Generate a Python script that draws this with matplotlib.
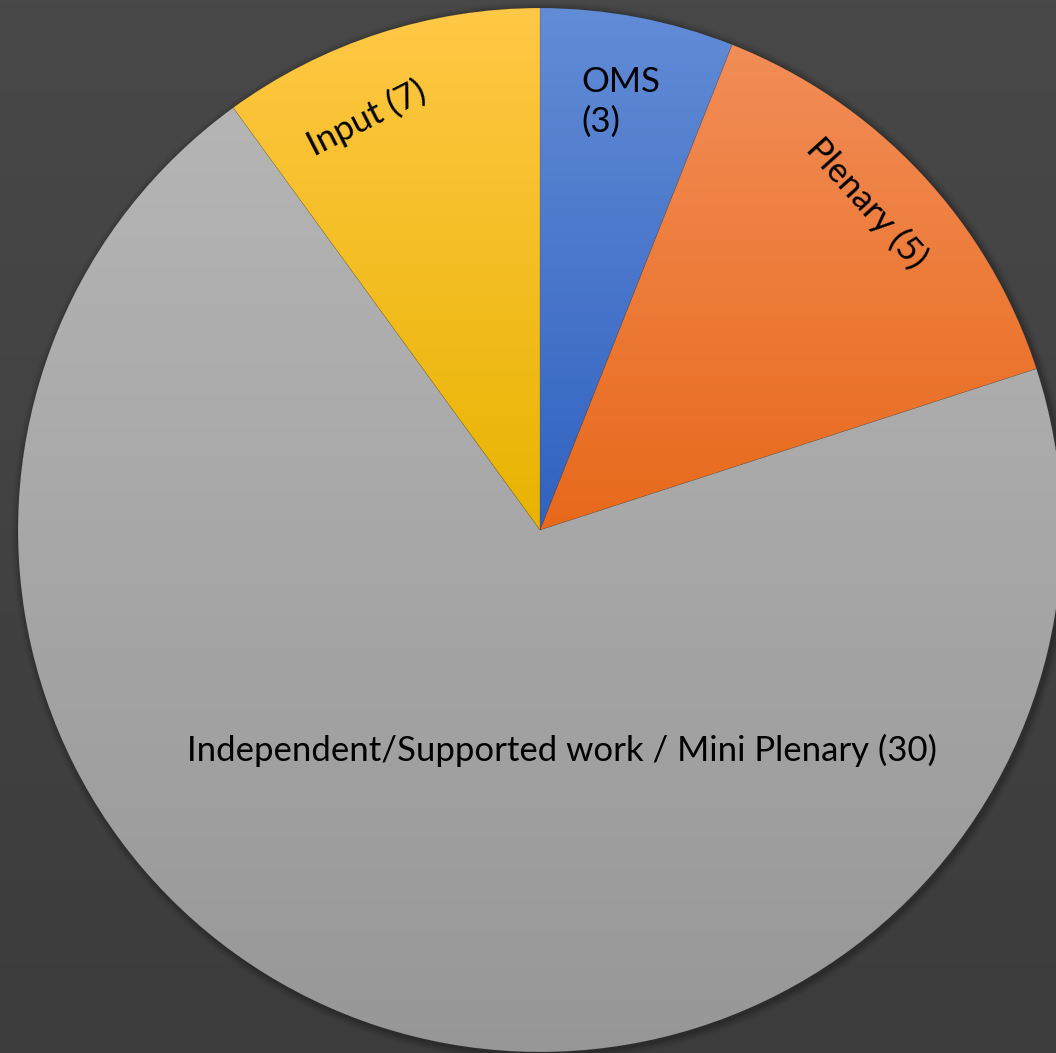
import numpy as np
import matplotlib
matplotlib.use("Agg")
import matplotlib.pyplot as plt
from matplotlib.colors import LinearSegmentedColormap

plt.rcParams['font.family'] = ['Lato', 'DejaVu Sans']

categories = ["OMS", "Plenary", "Independent/Supported work / Mini Plenary", "Input"]
label_counts = ["3", "5", "30", "7"]
values = [3, 7, 35, 5]
top_colors = ["#628cd6", "#f28d57", "#b5b5b5", "#ffc846"]
bottom_colors = ["#3262c0", "#e8691b", "#979797", "#e8b400"]

W, H = 1056, 1053
fig = plt.figure(figsize=(W / 100, H / 100), dpi=100)
ax = fig.add_axes([0, 0, 1, 1])
ax.set_axis_off()

# background gradient
bg = np.linspace(0, 1, 256).reshape(-1, 1)
bg_cmap = LinearSegmentedColormap.from_list("bg", ["#3c3c3c", "#484848"])
ax.imshow(bg, cmap=bg_cmap, extent=[0, W, 0, H], origin="lower", aspect="auto", zorder=0)

cx, cy, r = 540, H - 530, 522

# soft shadow
for i, a in enumerate([0.10, 0.08, 0.06, 0.04]):
    sh = plt.Circle((cx + 2, cy - 2), r + 2 + i * 2, color="black", alpha=a, zorder=1, lw=0)
    ax.add_patch(sh)

wedges, _ = ax.pie(values, startangle=90, counterclock=False, center=(cx, cy), radius=r,
                   wedgeprops=dict(linewidth=0.5, edgecolor="#00000018"), frame=True)

for w, tc, bc in zip(wedges, top_colors, bottom_colors):
    w.set_facecolor("none")
    w.set_zorder(3)
    path = w.get_path()
    verts = w.get_transform().transform(path.vertices)
    dverts = ax.transData.inverted().transform(verts)
    x0, x1 = dverts[:, 0].min(), dverts[:, 0].max()
    y0, y1 = dverts[:, 1].min(), dverts[:, 1].max()
    cm = LinearSegmentedColormap.from_list("g", [bc, tc])
    im = ax.imshow(np.linspace(0, 1, 256).reshape(-1, 1), cmap=cm, extent=[x0, x1, y0, y1],
                   origin="lower", aspect="auto", zorder=2)
    im.set_clip_path(w)

ax.set_xlim(0, W)
ax.set_ylim(0, H)
ax.set_aspect("auto")

fs = 25
ax.text(581, H - 102, f"{categories[0]}\n({label_counts[0]})", ha="left", va="center",
        fontsize=fs, color="black", zorder=5, linespacing=1.3)
ax.text(867, H - 203, f"{categories[1]} ({label_counts[1]})", ha="center", va="center",
        rotation=-48, rotation_mode="anchor", fontsize=fs, color="black", zorder=5)
ax.text(562, H - 750, f"{categories[2]} ({label_counts[2]})", ha="center", va="center",
        fontsize=fs, color="black", zorder=5)
ax.text(367, H - 118, f"{categories[3]} ({label_counts[3]})", ha="center", va="center",
        rotation=27, rotation_mode="anchor", fontsize=fs, color="black", zorder=5)

fig.savefig("out.png", dpi=100)
